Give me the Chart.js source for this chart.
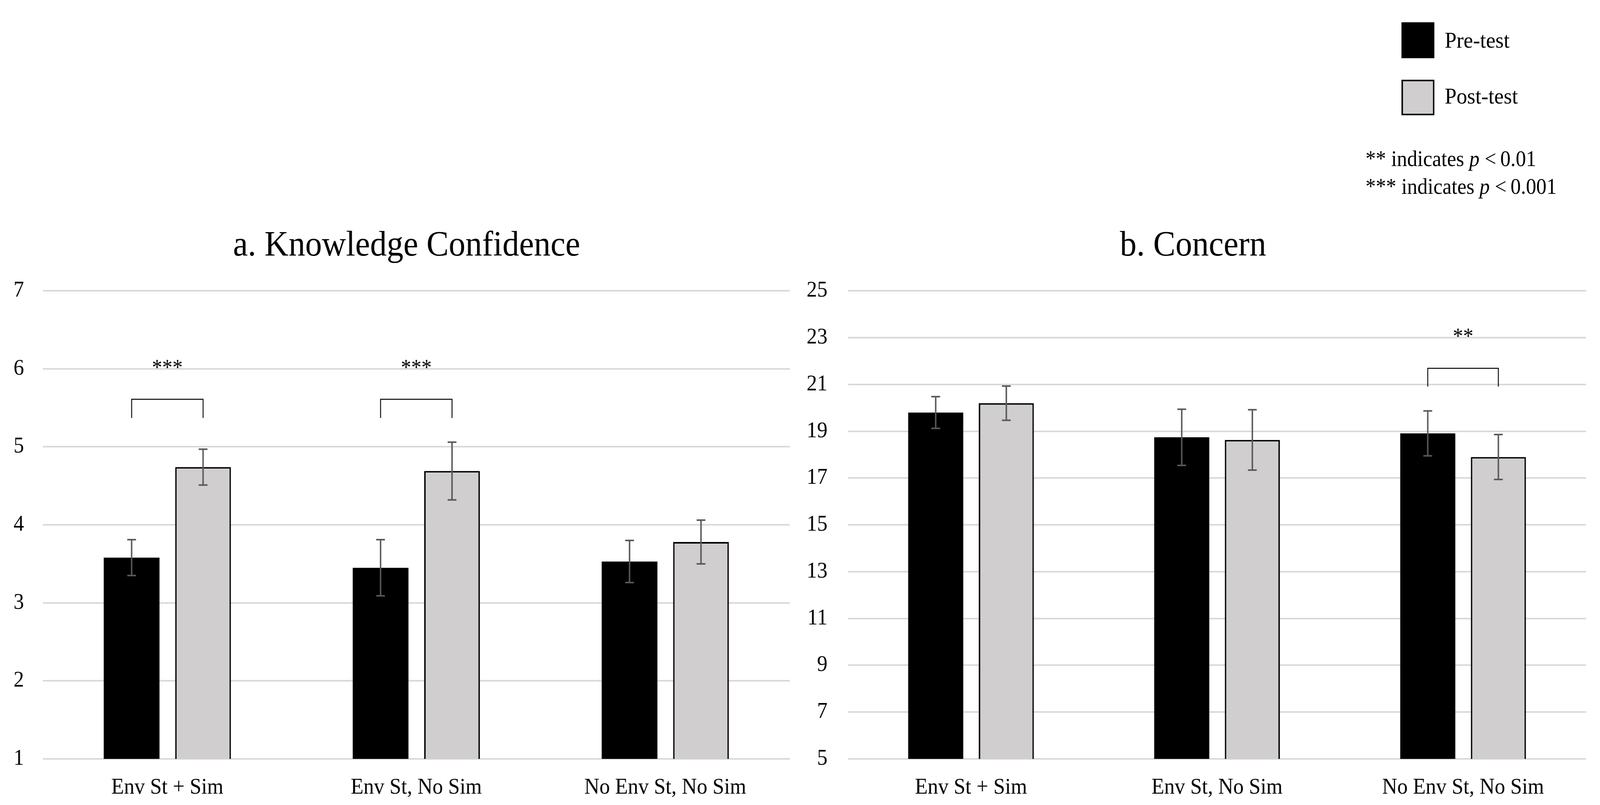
<!DOCTYPE html>
<html>
<head>
<meta charset="utf-8">
<script src="https://cdn.jsdelivr.net/npm/chart.js@4.4.1/dist/chart.umd.min.js"></script>
<style>
  html, body { margin: 0; padding: 0; background: #fff; overflow: hidden; }
  #page { position: absolute; left: 0; top: 0; width: 4368px; height: 2060px; transform-origin: 0 0; font-family: "Liberation Serif", serif; }
  canvas { position: absolute; top: 0; }
  .sq { position: absolute; box-sizing: border-box; }
  .txt { position: absolute; white-space: nowrap; color: #000; }
</style>
</head>
<body>
<div id="page">
<canvas id="chartA" width="2184" height="2060" style="left:0"></canvas>
<canvas id="chartB" width="2184" height="2060" style="left:2184px"></canvas>

<div class="sq" style="left:3826px; top:57px; width:90px; height:92px; background:#000;"></div>
<div class="sq" style="left:3826px; top:204px; width:90px; height:91px; background:#D0CECE; border:4px solid #000;"></div>
<div class="txt" style="left:3944px; top:68px; font-size:58px; line-height:70px;">Pre-test</div>
<div class="txt" style="left:3944px; top:211px; font-size:58px; line-height:70px;">Post-test</div>
<div class="txt" style="left:3728px; top:371px; font-size:56px; line-height:71px;">** indicates <i>p</i> &lt;&#8201;0.01<br>*** indicates <i>p</i> &lt;&#8201;0.001</div>
</div>

<script>
// categories
const groups = ["Env St + Sim", "Env St, No Sim", "No Env St, No Sim"];

// a. Knowledge Confidence
const knowPre = [3.58, 3.45, 3.53];
const knowPost = [4.74, 4.69, 3.78];
const knowPreErr = [0.23, 0.36, 0.27];
const knowPostErr = [0.23, 0.37, 0.28];
const knowSigGroup = [0, 1];
const knowSigTop = [5.61, 5.61];
const knowSigLeg = [5.37, 5.37];
const knowSigText = ["***", "***"];
const knowSigTextY = [6.055, 6.055];

// b. Concern
const concPre = [19.80, 18.74, 18.91];
const concPost = [20.20, 18.63, 17.90];
const concPreErr = [0.68, 1.20, 0.96];
const concPostErr = [0.73, 1.29, 0.96];
const concSigGroup = [2];
const concSigTop = [21.69];
const concSigLeg = [20.91];
const concSigText = ["**"];
const concSigTextY = [23.18];

const serif = "Liberation Serif";

// the window may be narrower than the 4368x2060 figure, so fit the page to it
const page = document.getElementById("page");
page.style.transform = "scale(" + (window.innerWidth / 4368) + "," + (window.innerHeight / 2060) + ")";

// error bars + significance brackets
function marks(errs, sigGroup, sigTop, sigLeg, sigText, sigTextY) {
    return {
        id: "marks",
        afterDatasetsDraw(chart) {
            const ctx = chart.ctx;
            const y = chart.scales.y;
            ctx.save();
            ctx.strokeStyle = "#595959";
            ctx.lineWidth = 4;
            chart.data.datasets.forEach((ds, i) => {
                chart.getDatasetMeta(i).data.forEach((bar, j) => {
                    const v = ds.data[j], e = errs[i][j];
                    const y1 = y.getPixelForValue(v + e);
                    const y2 = y.getPixelForValue(v - e);
                    ctx.beginPath();
                    ctx.moveTo(bar.x, y1); ctx.lineTo(bar.x, y2);
                    ctx.moveTo(bar.x - 12, y1); ctx.lineTo(bar.x + 12, y1);
                    ctx.moveTo(bar.x - 12, y2); ctx.lineTo(bar.x + 12, y2);
                    ctx.stroke();
                });
            });

            ctx.strokeStyle = "#000";
            ctx.lineWidth = 2.5;
            ctx.fillStyle = "#000";
            ctx.font = "56px '" + serif + "'";
            ctx.textAlign = "center";
            ctx.textBaseline = "alphabetic";
            sigGroup.forEach((g, k) => {
                const x1 = chart.getDatasetMeta(0).data[g].x;
                const x2 = chart.getDatasetMeta(1).data[g].x;
                const yt = y.getPixelForValue(sigTop[k]);
                const yl = y.getPixelForValue(sigLeg[k]);
                ctx.beginPath();
                ctx.moveTo(x1, yl); ctx.lineTo(x1, yt); ctx.lineTo(x2, yt); ctx.lineTo(x2, yl);
                ctx.stroke();
                ctx.fillText(sigText[k], (x1 + x2) / 2, y.getPixelForValue(sigTextY[k]) + 26);
            });
            ctx.restore();
        }
    };
}

// yTicks: padding/mirror for the value labels; mirror keeps them from being clipped
// when the left layout padding is used to move the title
function makeChart(id, title, pre, post, min, max, step, padLeft, yWidth, yTicks, padRight, plugin) {
    return new Chart(document.getElementById(id), {
        type: "bar",
        data: {
            labels: groups,
            datasets: [
                { label: "Pre-test", data: pre, backgroundColor: "#000000", borderWidth: 0 },
                { label: "Post-test", data: post, backgroundColor: "#D0CECE", borderColor: "#000000", borderWidth: 4 }
            ]
        },
        options: {
            responsive: false,
            animation: false,
            devicePixelRatio: 1,
            layout: { padding: { top: 575, right: padRight, bottom: 0, left: padLeft } },
            datasets: { bar: { categoryPercentage: 0.574, barPercentage: 0.78 } },
            plugins: {
                legend: { display: false },
                tooltip: { enabled: false },
                title: {
                    display: true, text: title, color: "#000",
                    font: { family: serif, size: 91, weight: "normal" },
                    padding: { top: 0, bottom: 60 }
                }
            },
            scales: {
                x: {
                    grid: { display: false },
                    border: { display: false },
                    ticks: { color: "#000", font: { family: serif, size: 57 }, padding: 32 },
                    afterFit: s => { s.height = 118; }
                },
                y: {
                    min: min, max: max,
                    grid: { color: "#D9D9D9", lineWidth: 4, drawTicks: false },
                    border: { display: false },
                    ticks: Object.assign({ stepSize: step, color: "#000", font: { family: serif, size: 57 } }, yTicks),
                    afterFit: s => { s.width = yWidth; }
                }
            }
        },
        plugins: [plugin]
    });
}

makeChart("chartA", "a. Knowledge Confidence", knowPre, knowPost, 1, 7, 1, 64, 53,
    { mirror: true, crossAlign: "far", padding: -80 }, 28,
    marks([knowPreErr, knowPostErr], knowSigGroup, knowSigTop, knowSigLeg, knowSigText, knowSigTextY));
makeChart("chartB", "b. Concern", concPre, concPost, 5, 25, 2, 0, 131,
    { padding: 56 }, 38,
    marks([concPreErr, concPostErr], concSigGroup, concSigTop, concSigLeg, concSigText, concSigTextY));
</script>
</body>
</html>
